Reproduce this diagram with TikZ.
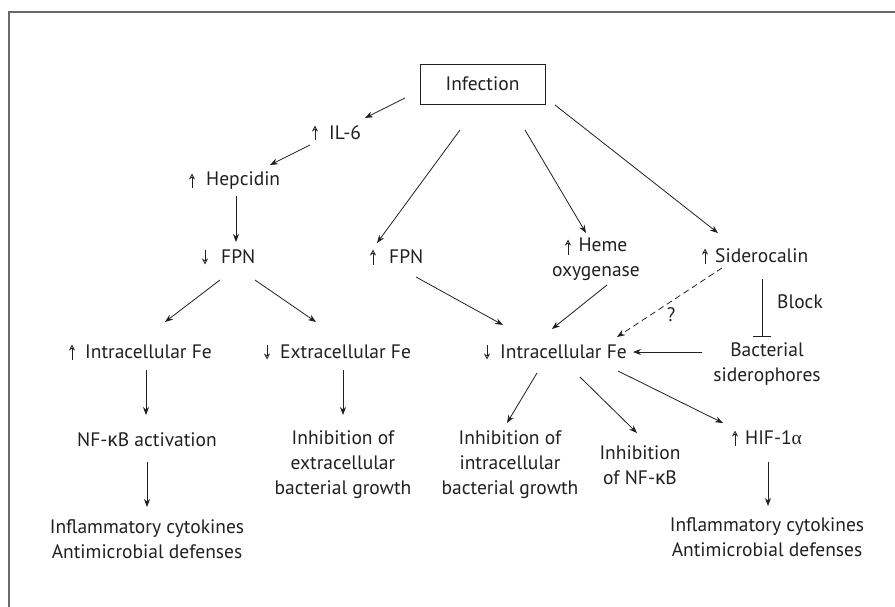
\documentclass[tikz,border=0pt]{standalone}
\usepackage{fontspec}
\setmainfont{PT Sans}
\newfontfamily\grkfont{Noto Sans}
\newfontfamily\alphafont{Liberation Serif}
\usetikzlibrary{arrows.meta,calc}
\definecolor{ink}{HTML}{231F20}
\definecolor{framegray}{HTML}{6A6A6A}
\newcommand\kap{{\grkfont κ}}
\newcommand\alf{{\alphafont α}}
\begin{document}
\begin{tikzpicture}[x=1pt,y=-1pt,
  lbl/.style={inner sep=0pt,align=center,text=ink,font=\fontsize{19.5}{25}\selectfont},
  wlbl/.style={lbl,anchor=west},
  arr/.style={ink,line width=0.8pt,-{Stealth[length=8pt,width=6pt]}},
  ind/.style={ink,line width=0.7pt,-{Stealth[open,length=6pt,width=6pt]}},
  blk/.style={ink,line width=0.8pt,-{Bar[width=18pt]}},
  dsh/.style={ink,line width=0.8pt,dash pattern=on 6pt off 4pt,-{Stealth[length=8pt,width=6pt]}}]
\useasboundingbox (0,0) rectangle (895,607);
\draw[framegray,line width=2pt] (9,607) -- (9,12) -- (895,12);
% nodes
\node[lbl,draw=ink,line width=0.8pt,minimum width=125pt,minimum height=40pt] (inf) at (482.5,84) {Infection};
\node[wlbl] (il6) at (312,133) {\hspace{17pt}IL-6};
\node[wlbl] (hep) at (189,181) {\hspace{17pt}Hepcidin};
\node[wlbl] (fpn1) at (202,257) {\hspace{19pt}FPN};
\node[wlbl] (fpn2) at (370,257) {\hspace{19pt}FPN};
\node[lbl] (heme) at (596,259.5) {\hspace{14pt}Heme\\oxygenase};
\node[wlbl] (sid) at (702,256) {\hspace{13pt}Siderocalin};
\node[wlbl] (ifeL) at (69,352) {\hspace{16pt}Intracellular Fe};
\node[wlbl] (efe) at (264,352) {\hspace{16pt}Extracellular Fe};
\node[wlbl] (ifeM) at (484,352) {\hspace{16pt}Intracellular Fe};
\node[lbl] (bact) at (767,364.5) {Bacterial\\siderophores};
\node[lbl] (blklbl) at (800,302) {Block};
\node[lbl] (q) at (671,315) {?};
\node[lbl] (nfk) at (147,440) {NF-\kap B activation};
\node[lbl] (inhE) at (343,465) {Inhibition of\\extracellular\\bacterial growth};
\node[lbl] (inhI) at (510,465) {Inhibition of\\intracellular\\bacterial growth};
\node[lbl] (inhN) at (640,465) {Inhibition\\of NF-\kap B};
\node[wlbl] (hif) at (732,438) {\hspace{13pt}HIF-1\alf};
\node[lbl] (cytL) at (147,539) {Inflammatory cytokines\\Antimicrobial defenses};
\node[lbl] (cytR) at (767,537) {Inflammatory cytokines\\Antimicrobial defenses};
% up / down indicators
\foreach \n in {il6,hep,fpn2,sid,ifeL,hif}
  \draw[ind] ($(\n.west)+(3,7.5)$) -- ($(\n.west)+(3,-7.5)$);
\foreach \n in {fpn1,efe,ifeM}
  \draw[ind] ($(\n.west)+(3,-7.5)$) -- ($(\n.west)+(3,7.5)$);
\draw[ind] ($(heme)+(-28,-5)$) -- ($(heme)+(-28,-20)$);
% connectors
\draw[arr] ($(inf)+(-77.5,14)$) -- ($(il6.west)+(53,-15)$);
\draw[arr] ($(il6.west)+(-2,12)$) -- ($(hep.west)+(81,-16)$);
\draw[arr] ($(hep.west)+(47,15)$) -- ($(fpn1.west)+(34,-15)$);
\draw[arr] ($(fpn1.west)+(18,23)$) -- ($(ifeL.west)+(96,-30)$);
\draw[arr] ($(fpn1.west)+(53,23)$) -- ($(efe.west)+(52,-30)$);
\draw[arr] ($(inf)+(-22.5,46)$) -- ($(fpn2.west)+(7,-14)$);
\draw[arr] ($(inf)+(42.5,46)$) -- ($(heme)+(-10,-26.5)$);
\draw[arr] ($(inf)+(72.5,21)$) -- ($(sid.west)+(16,-23)$);
\draw[arr] ($(fpn2.west)+(46,20)$) -- ($(ifeM.west)+(19,-27)$);
\draw[arr] ($(heme)+(11,25.5)$) -- ($(ifeM.west)+(68,-23)$);
\draw[dsh] ($(sid.west)+(20,12)$) -- ($(ifeM.west)+(133,-15)$);
\draw[blk] ($(sid.west)+(60,23)$) -- ($(bact)+(-5,-27.5)$);
\draw[arr] ($(bact)+(-65,-12.5)$) -- ($(ifeM.west)+(149,0)$);
\draw[arr] ($(ifeL.west)+(77,18)$) -- ($(nfk)+(-1,-25)$);
\draw[arr] ($(efe.west)+(79,18)$) -- ($(inhE)+(0,-50)$);
\draw[arr] ($(nfk)+(0,22)$) -- ($(cytL)+(0,-32)$);
\draw[arr] ($(ifeM.west)+(53,21)$) -- ($(inhI)+(-3,-42)$);
\draw[arr] ($(ifeM.west)+(96,25)$) -- ($(inhN)+(-3,-32)$);
\draw[arr] ($(ifeM.west)+(134,19)$) -- ($(hif.west)+(-9,-15)$);
\draw[arr] ($(hif.west)+(36,24)$) -- ($(cytR)+(1,-31)$);
\end{tikzpicture}
\end{document}
